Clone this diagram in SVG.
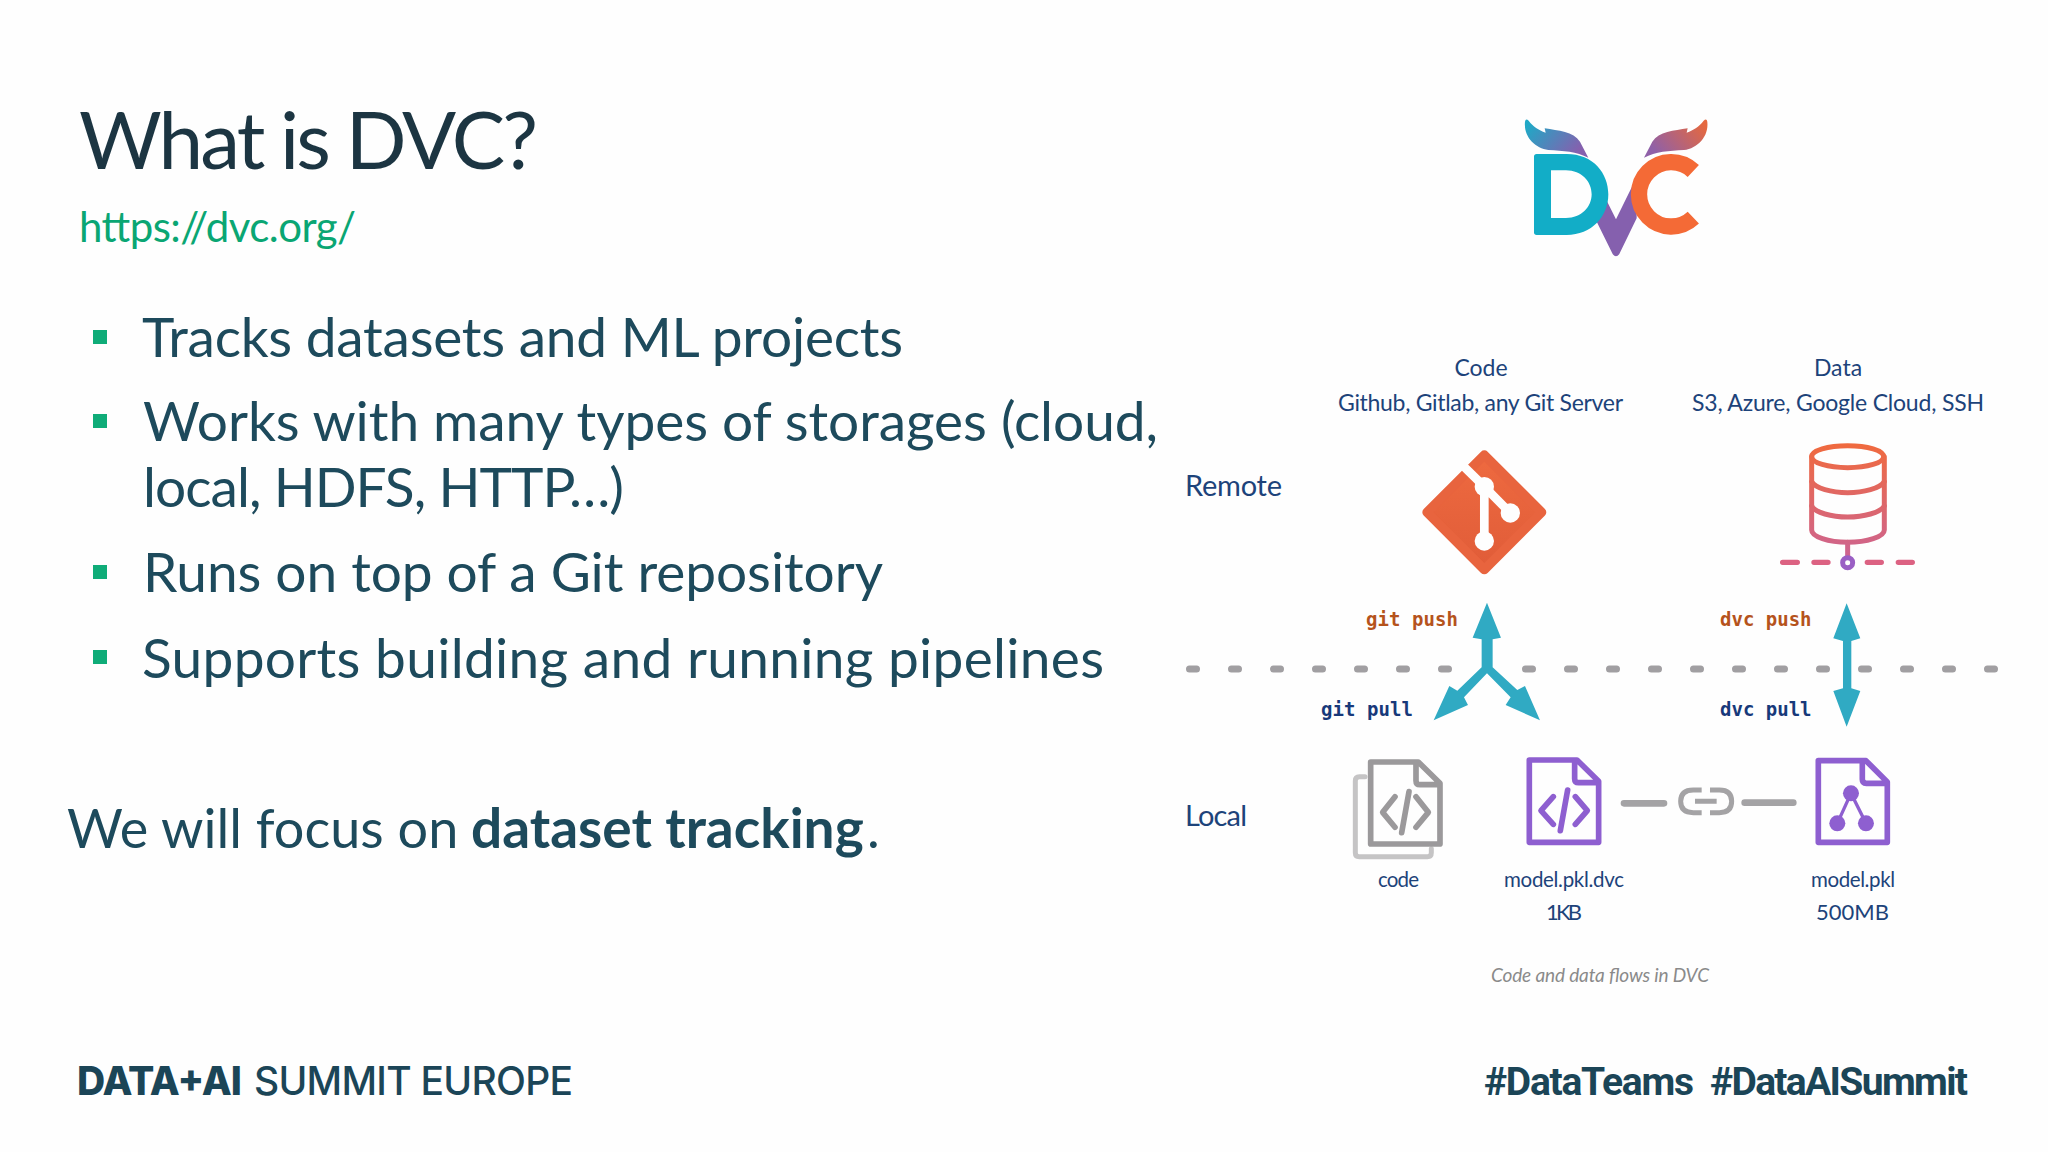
<svg xmlns="http://www.w3.org/2000/svg" width="2048" height="1152" viewBox="0 0 2048 1152">
<style>
text{font-family:"Lato","Liberation Sans",sans-serif}
.body{font-size:55px;fill:#1d4a5c}
.lab{font-size:23px;fill:#1d437a}
.small{font-size:20.5px;fill:#1d437a}
.size{font-size:22px;fill:#1d437a}
.side{font-size:29px;fill:#1d437a}
.mono{font-family:"DejaVu Sans Mono","Liberation Mono",monospace;font-size:19px;font-weight:700}
.push{fill:#b5531c}.pull{fill:#17397a}
.bullet{fill:#0fac78}
.foot{font-family:"Inter","Liberation Sans",sans-serif;font-size:39px;fill:#1b4557}
.tag{font-family:"Roboto","Liberation Sans",sans-serif;font-size:39px;font-weight:700;fill:#1b4557}
.doc{fill:none;stroke-width:17;stroke-linejoin:round;stroke-linecap:round}
.gray{stroke:#9b999b}.purple{stroke:#8e5fd0}
.arrow{fill:#30aac3}
.dash{fill:none;stroke:#a19fa2;stroke-width:7;stroke-linecap:round;stroke-dasharray:7 35}
.linkln{fill:none;stroke:#a4a3a5;stroke-linecap:round}
</style>
<defs>
<linearGradient id="wl" x1="0" y1="0" x2="1" y2="0.5"><stop offset="0.1" stop-color="#20a8c6"/><stop offset="1" stop-color="#8560ae"/></linearGradient>
<linearGradient id="wr" x1="1" y1="0" x2="0" y2="0.5"><stop offset="0.1" stop-color="#e5683f"/><stop offset="1" stop-color="#8f60a8"/></linearGradient>
<linearGradient id="gitg" x1="0" y1="0" x2="0" y2="1"><stop offset="0" stop-color="#ee6a40"/><stop offset="1" stop-color="#e05c38"/></linearGradient>
<linearGradient id="dbg" gradientUnits="userSpaceOnUse" x1="0" y1="310" x2="0" y2="690"><stop offset="0" stop-color="#f06a3e"/><stop offset="1" stop-color="#c9639a"/></linearGradient>
</defs>
<rect width="2048" height="1152" fill="#fefefe"/>

<g id="title"><text x="79" y="169" font-size="80" fill="#1c3542" textLength="459">What is DVC?</text></g>
<g id="url"><text x="79" y="242" font-size="42" fill="#0aa673" textLength="277">https://dvc.org/</text></g>
<g id="bullets">
<rect class="bullet" x="93" y="330" width="14" height="14"/>
<text class="body" x="142" y="357" textLength="761">Tracks datasets and ML projects</text>
<rect class="bullet" x="93" y="414" width="14" height="14"/>
<text class="body" x="143" y="441" textLength="1015">Works with many types of storages (cloud,</text>
<text class="body" x="143" y="507" textLength="481">local, HDFS, HTTP…)</text>
<rect class="bullet" x="93" y="565" width="14" height="14"/>
<text class="body" x="143" y="592" textLength="740">Runs on top of a Git repository</text>
<rect class="bullet" x="93" y="650" width="14" height="14"/>
<text class="body" x="142" y="678" textLength="962">Supports building and running pipelines</text>
</g>
<g id="focus"><text class="body" x="67" y="848" style="font-size:54px">We will focus on <tspan x="471" font-weight="700" style="font-size:55px">dataset tracking</tspan><tspan x="867">.</tspan></text></g>

<g id="dvc-logo" transform="translate(1480 90) scale(.3333)">
<path fill="#8560ae" d="M345,262 L408,388 L470,262 V385 L418,492 Q408,506 398,492 L345,385 Z"/>
<path fill="url(#wl)" d="M135,95 Q137,83 146,92 C160,110 175,120 197,128 L194,115 C235,122 280,125 300,155 L325,203 C290,185 250,182 205,180 C165,175 130,140 135,95 Z"/>
<path fill="url(#wr)" d="M682,95 Q680,83 671,92 C657,110 642,120 620,128 L623,115 C582,122 537,125 517,155 L492,203 C527,185 567,182 612,180 C652,175 687,140 682,95 Z"/>
<path fill="#12adc7" fill-rule="evenodd" d="M162,200 Q162,192 170,192 L260,192 C340,192 385,250 385,313 C385,380 335,435 260,435 L170,435 Q162,435 162,427 Z M213,241 L213,384 L258,384 C305,384 335,350 335,313 C335,275 305,241 258,241 Z"/>
<path fill="none" stroke="#f46a36" stroke-width="49" d="M640,243 A96.5,96.5 0 1 0 640,383"/>
</g>

<g id="git-remote" transform="translate(1320 340) scale(.3333)">
<path fill="url(#gitg)" stroke="#e8643e" stroke-width="28" stroke-linejoin="round" d="M493,345 L665,517 L493,689 L321,517 Z"/>
<path fill="none" stroke="#fefefe" stroke-width="26" d="M428,376 L493,440 L571,519 M493,440 V603"/>
<g fill="#fefefe"><circle cx="493" cy="440" r="29"/><circle cx="571" cy="519" r="29"/><circle cx="493" cy="603" r="29"/></g>
</g>

<g id="data-remote" transform="translate(1700 340) scale(.3333)">
<g fill="none" stroke="url(#dbg)" stroke-width="15" stroke-linecap="round">
<ellipse cx="443" cy="350" rx="108" ry="33"/>
<path d="M335,350 V570 C335,590 385,607 443,607 C501,607 553,590 553,570 V350"/>
<path d="M335,425 C345,445 395,458 443,458 C491,458 541,445 553,425"/>
<path d="M335,498 C345,518 395,531 443,531 C491,531 541,518 553,498"/>
<path d="M443,607 V650"/>
</g>
<path fill="none" stroke="#dc6282" stroke-width="16" stroke-linecap="round" d="M248,667 H292 M342,667 H384 M502,667 H544 M595,667 H637"/>
<circle cx="443" cy="668" r="15" fill="#fefefe" stroke="#9a5fc4" stroke-width="15"/>
</g>

<g id="code-file" transform="translate(1340 740) scale(.3333)">
<path fill="none" stroke="#c5c4c5" stroke-width="15" stroke-linecap="round" stroke-linejoin="round" d="M75,110 H58 Q46,110 46,122 V338 Q46,350 58,350 H262 Q274,350 274,338 V326"/>
<path class="doc gray" d="M92,66 H235 L300,130 V312 H92 Z M228,70 V122 Q228,134 240,134 H298"/>
<path class="doc gray" d="M165,170 L128,217 L165,262 M228,170 L265,217 L228,262 M207,155 L185,278"/>
</g>
<g id="dvc-file" transform="translate(1340 740) scale(.3333)">
<path class="doc purple" d="M568,60 H711 L776,124 V307 H568 Z M704,64 V116 Q704,128 716,128 H774"/>
<path class="doc purple" d="M640,170 L603,212 L640,253 M706,170 L742,212 L706,253 M683,150 L661,272"/>
</g>
<g id="model-file" transform="translate(1600 740) scale(.3333)">
<path class="doc purple" d="M655,62 H798 L862,126 V307 H655 Z M787,66 V118 Q787,130 799,130 H860"/>
<path fill="none" stroke="#8e5fd0" stroke-width="10" d="M753,160 L712,250 M753,160 L798,250"/>
<g fill="#8e5fd0"><circle cx="753" cy="160" r="24"/><circle cx="712" cy="250" r="24"/><circle cx="798" cy="250" r="24"/></g>
</g>

<g id="connectors">
<path class="dash" d="M1189.5,669 H1450"/>
<path class="dash" d="M1525.5,669 H1996"/>
<g transform="translate(1300 590) scale(.3333)">
<path class="arrow" d="M561,38 L603,143 L578,148 V232 L652,300 L675,288 L720,391 L617,345 L632,322 L561,250 L492,322 L504,345 L401,391 L448,288 L472,302 L545,232 V148 L518,143 Z"/>
</g>
<g transform="translate(1690 590) scale(.3333)">
<path class="arrow" d="M470,40 L511,145 L484,153 V295 L511,303 L470,410 L430,303 L459,295 V153 L430,145 Z"/>
</g>
<g transform="translate(1600 740) scale(.3333)">
<path class="linkln" stroke-width="20" d="M72,190 H192 M434,188 H580"/>
<path fill="none" stroke="#a4a3a5" stroke-width="15" d="M305,150 H280 Q242,150 242,184 Q242,218 280,218 H305 M330,150 H358 Q395,150 395,184 Q395,218 358,218 H330 M285,184 H350"/>
</g>
</g>

<g id="labels">
<text class="lab" x="1481" y="376" text-anchor="middle">Code</text>
<text class="lab" x="1338" y="411" textLength="285">Github, Gitlab, any Git Server</text>
<text class="lab" x="1838" y="376" text-anchor="middle">Data</text>
<text class="lab" x="1692" y="411" textLength="292">S3, Azure, Google Cloud, SSH</text>
<text class="side" x="1185" y="496" textLength="97">Remote</text>
<text class="side" x="1185" y="826" textLength="62">Local</text>
<text class="mono push" x="1366" y="626" textLength="92">git push</text>
<text class="mono pull" x="1321" y="716" textLength="92">git pull</text>
<text class="mono push" x="1720" y="626">dvc push</text>
<text class="mono pull" x="1720" y="716">dvc pull</text>
<text class="small" x="1378" y="887" textLength="41">code</text>
<text class="small" x="1504" y="887" textLength="120">model.pkl.dvc</text>
<text class="size" x="1546" y="920" textLength="36">1KB</text>
<text class="small" x="1811" y="887" textLength="84">model.pkl</text>
<text class="size" x="1816" y="920" textLength="73">500MB</text>
<text x="1491" y="982" font-size="19" font-style="italic" fill="#8a8a8a" textLength="218">Code and data flows in DVC</text>
</g>

<g id="footer">
<text class="foot" x="77" y="1095" font-weight="800" textLength="165">DATA+AI</text>
<text class="foot" x="254" y="1095" font-weight="500" textLength="319">SUMMIT EUROPE</text>
<text class="tag" x="1484" y="1095" textLength="210">#DataTeams</text>
<text class="tag" x="1710" y="1095" textLength="258">#DataAISummit</text>
</g>
</svg>
